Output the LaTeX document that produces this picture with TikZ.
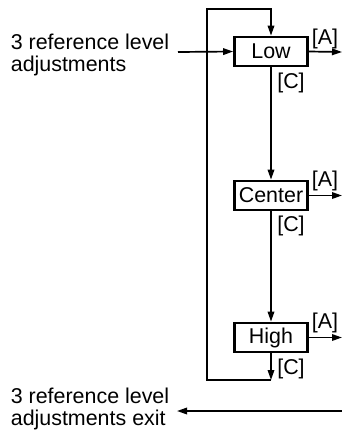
\documentclass[tikz,border=0pt]{standalone}
\usepackage{fontspec}
\setmainfont{Liberation Sans}
\usetikzlibrary{arrows.meta}
\begin{document}
\begin{tikzpicture}[x=1bp,y=-1bp,
  font=\fontsize{21.5}{21.5}\selectfont,
  >={Triangle[length=10bp,width=6.5bp]},
  line width=1.7bp,
  level/.style={draw,line width=2.7bp,minimum width=73bp,minimum height=29bp,inner sep=0pt},
  tag/.style={inner sep=0pt},
  side/.style={align=left,anchor=west,inner sep=0pt}]
\useasboundingbox (0,0) rectangle (342,430);
\node[level] (low) at (271,51.5) {Low};
\node[level] (center) at (271,195.5) {Center};
\node[level] (high) at (271,337.5) {High};
\node[side] (enter) at (10,55) {3 reference level\\adjustments};
\node[side] (leave) at (10,409) {3 reference level\\adjustments exit};
\coordinate (in) at (178,52);
\coordinate (looptop) at (207,9);
\coordinate (hc) at (271,380);
\coordinate (a1) at (342,52);
\coordinate (a2) at (342,195.5);
\coordinate (a3) at (342,337.5);
\coordinate (exitr) at (342,411);
\coordinate (exitl) at (177,411);
\draw[->] (in) -- (low.west);
\draw[->] (hc) -| (looptop) -| (low.north);
\draw[->] (low.south) -- (center.north);
\draw[->] (center.south) -- (high.north);
\draw[->] (high.south) -- (hc);
\draw[->] (low.east) -- (a1);
\draw[->] (center.east) -- (a2);
\draw[->] (high.east) -- (a3);
\draw[->] (exitr) -- (exitl);
\node[tag] (la) at (325,39) {[A]};
\node[tag] (ca) at (325,181) {[A]};
\node[tag] (ha) at (325,323) {[A]};
\node[tag] (lc) at (291,83) {[C]};
\node[tag] (cc) at (291,226) {[C]};
\node[tag] (hc2) at (291,369) {[C]};
\end{tikzpicture}
\end{document}
